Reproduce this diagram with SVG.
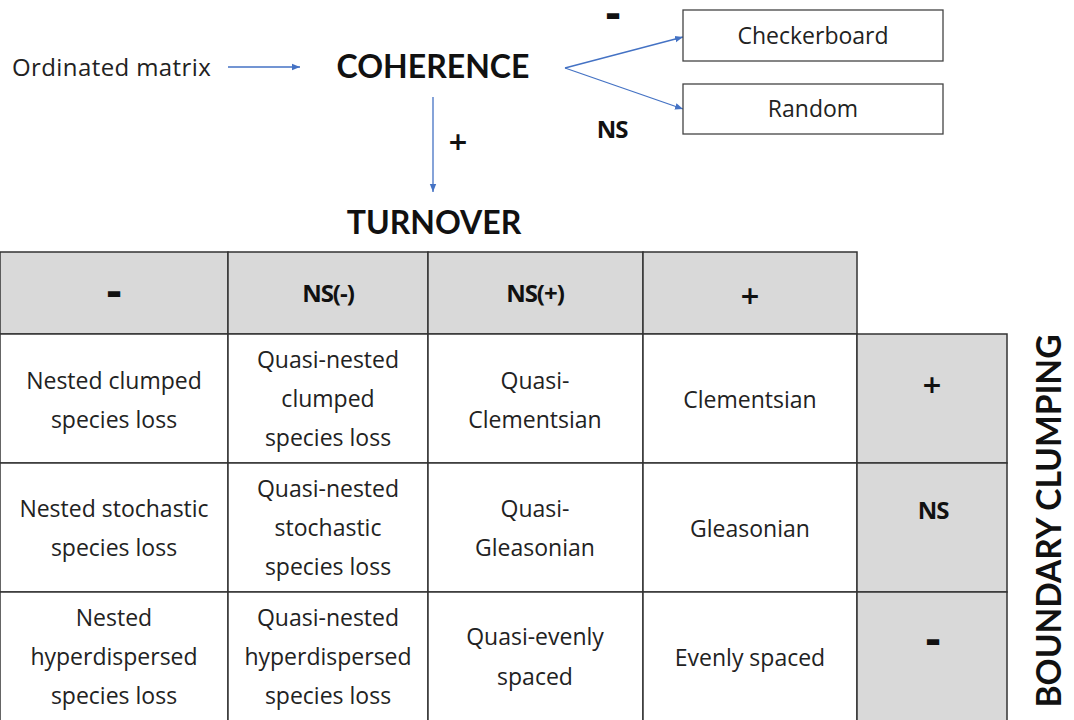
<svg xmlns="http://www.w3.org/2000/svg" width="1074" height="720" viewBox="0 0 1074 720">
<defs>
<marker id="ah" viewBox="0 0 10 10" refX="10" refY="5" markerWidth="8" markerHeight="8" markerUnits="userSpaceOnUse" orient="auto">
<path d="M0,1 L10,5 L0,9 z" fill="#4472C4"/>
</marker>
<style>
text{font-family:"Open Sans","Liberation Sans",sans-serif;fill:#222}
.b{font-weight:bold;fill:#111}
.big{font-family:Lato,"Open Sans",sans-serif;font-size:32px}
.cell{font-size:23px;text-anchor:middle}
.hd{font-size:24px;text-anchor:middle;letter-spacing:-1px}
.sym{font-family:"DejaVu Sans",sans-serif;font-weight:bold;fill:#111;text-anchor:middle}
.dash{font-size:40px}
.plus{font-size:25px}
.conn{stroke:#4472C4;stroke-width:1.3;fill:none;marker-end:url(#ah)}
.box{fill:#fff;stroke:#444;stroke-width:1.3}
.g{fill:#d9d9d9;stroke:#333;stroke-width:1.5}
.w{fill:#fff;stroke:#333;stroke-width:1.5}
</style>
</defs>
<rect width="1074" height="720" fill="#fff"/>

<g id="connectors">
<line class="conn" x1="228" y1="67" x2="300" y2="67"/>
<line class="conn" x1="433" y1="97" x2="433" y2="192"/>
<line class="conn" x1="565" y1="68" x2="683" y2="37"/>
<line class="conn" x1="565" y1="68" x2="683" y2="109"/>
<text class="sym dash" x="613" y="28">-</text>
<text class="b hd" x="612" y="138">NS</text>
<text class="sym plus" x="458" y="150">+</text>
</g>

<g id="ordinated-matrix">
<text x="12" y="76" font-size="24" letter-spacing="0.4">Ordinated matrix</text>
</g>
<g id="coherence">
<text class="b big" x="433" y="78" text-anchor="middle">COHERENCE</text>
</g>
<g id="turnover">
<text class="b big" x="434" y="234" text-anchor="middle">TURNOVER</text>
</g>
<g id="checkerboard">
<rect class="box" x="683" y="10" width="260" height="51"/>
<text x="813" y="44" font-size="23" text-anchor="middle">Checkerboard</text>
</g>
<g id="random">
<rect class="box" x="683" y="84" width="260" height="50"/>
<text x="813" y="117" font-size="23" text-anchor="middle">Random</text>
</g>

<g id="table">
<rect class="g" x="0" y="252" width="228" height="82"/>
<rect class="g" x="228" y="252" width="200" height="82"/>
<rect class="g" x="428" y="252" width="215" height="82"/>
<rect class="g" x="643" y="252" width="214" height="82"/>
<text class="sym dash" x="114" y="306">-</text>
<text class="b hd" x="328" y="302">NS(-)</text>
<text class="b hd" x="535" y="302">NS(+)</text>
<text class="sym plus" x="750" y="304">+</text>

<rect class="w" x="0" y="334" width="228" height="129"/>
<rect class="w" x="228" y="334" width="200" height="129"/>
<rect class="w" x="428" y="334" width="215" height="129"/>
<rect class="w" x="643" y="334" width="214" height="129"/>
<rect class="g" x="857" y="334" width="150" height="129"/>

<rect class="w" x="0" y="463" width="228" height="129"/>
<rect class="w" x="228" y="463" width="200" height="129"/>
<rect class="w" x="428" y="463" width="215" height="129"/>
<rect class="w" x="643" y="463" width="214" height="129"/>
<rect class="g" x="857" y="463" width="150" height="129"/>

<rect class="w" x="0" y="592" width="228" height="140"/>
<rect class="w" x="228" y="592" width="200" height="140"/>
<rect class="w" x="428" y="592" width="215" height="140"/>
<rect class="w" x="643" y="592" width="214" height="140"/>
<rect class="g" x="857" y="592" width="150" height="140"/>

<text class="cell" x="114" y="389">Nested clumped</text>
<text class="cell" x="114" y="428">species loss</text>
<text class="cell" x="328" y="368">Quasi-nested</text>
<text class="cell" x="328" y="407">clumped</text>
<text class="cell" x="328" y="446">species loss</text>
<text class="cell" x="535" y="389">Quasi-</text>
<text class="cell" x="535" y="428">Clementsian</text>
<text class="cell" x="750" y="408">Clementsian</text>
<text class="sym plus" x="932" y="393">+</text>

<text class="cell" x="114" y="517">Nested stochastic</text>
<text class="cell" x="114" y="556">species loss</text>
<text class="cell" x="328" y="497">Quasi-nested</text>
<text class="cell" x="328" y="536">stochastic</text>
<text class="cell" x="328" y="575">species loss</text>
<text class="cell" x="535" y="517">Quasi-</text>
<text class="cell" x="535" y="556">Gleasonian</text>
<text class="cell" x="750" y="537">Gleasonian</text>
<text class="b hd" x="933" y="519">NS</text>

<text class="cell" x="114" y="626">Nested</text>
<text class="cell" x="114" y="665">hyperdispersed</text>
<text class="cell" x="114" y="704">species loss</text>
<text class="cell" x="328" y="626">Quasi-nested</text>
<text class="cell" x="328" y="665">hyperdispersed</text>
<text class="cell" x="328" y="704">species loss</text>
<text class="cell" x="535" y="645">Quasi-evenly</text>
<text class="cell" x="535" y="685">spaced</text>
<text class="cell" x="750" y="666">Evenly spaced</text>
<text class="sym dash" x="933" y="654">-</text>
</g>

<g id="boundary-clumping">
<text class="b big" text-anchor="middle" transform="translate(1061,521) rotate(-90)" style="font-size:33.5px">BOUNDARY CLUMPING</text>
</g>
</svg>
